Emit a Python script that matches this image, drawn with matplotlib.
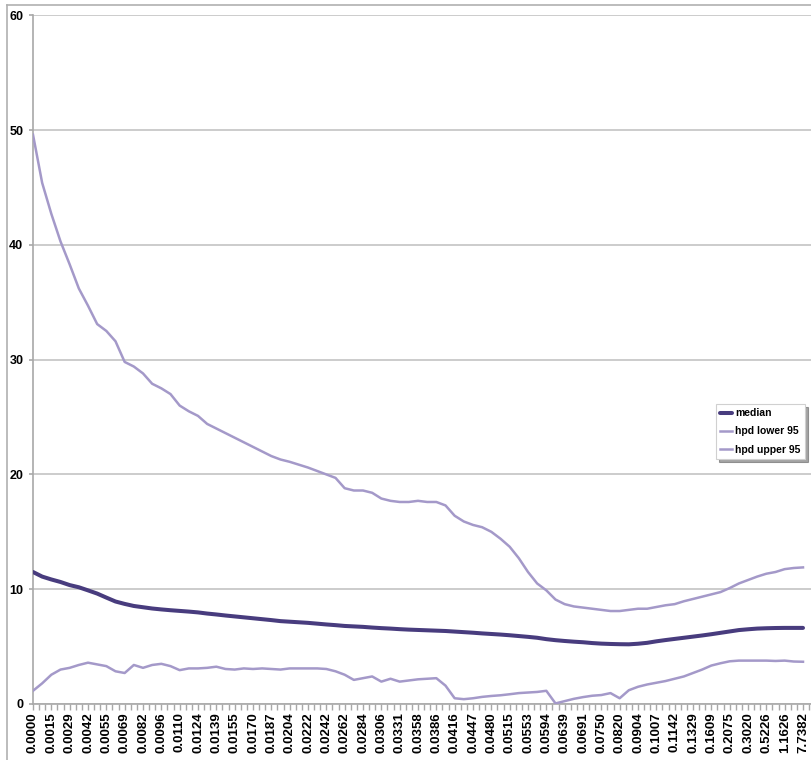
import numpy as np
import matplotlib
matplotlib.use("Agg")
import matplotlib.pyplot as plt
from matplotlib.ticker import MultipleLocator
from matplotlib.lines import Line2D

plt.rcParams['font.family'] = ['Liberation Sans', 'DejaVu Sans']

# category labels shown on the x axis (one every 2 points)
x_labels = ['0.0000', '0.0015', '0.0029', '0.0042', '0.0055', '0.0069', '0.0082', '0.0096',
            '0.0110', '0.0124', '0.0139', '0.0155', '0.0170', '0.0187', '0.0204', '0.0222',
            '0.0242', '0.0262', '0.0284', '0.0306', '0.0331', '0.0358', '0.0386', '0.0416',
            '0.0447', '0.0480', '0.0515', '0.0553', '0.0594', '0.0639', '0.0691', '0.0750',
            '0.0820', '0.0904', '0.1007', '0.1142', '0.1329', '0.1609', '0.2075', '0.3020',
            '0.5226', '1.1626', '7.7382']

median = [11.5, 11.1, 10.85, 10.63, 10.36, 10.17, 9.9, 9.62, 9.27, 8.93,
          8.72, 8.54, 8.43, 8.32, 8.24, 8.17, 8.11, 8.05, 7.98, 7.88,
          7.8, 7.71, 7.63, 7.55, 7.47, 7.39, 7.31, 7.22, 7.17, 7.12,
          7.07, 7.0, 6.93, 6.87, 6.8, 6.76, 6.72, 6.66, 6.61, 6.57,
          6.52, 6.48, 6.45, 6.42, 6.39, 6.36, 6.31, 6.26, 6.21, 6.15,
          6.1, 6.05, 5.99, 5.92, 5.85, 5.77, 5.65, 5.56, 5.49, 5.43,
          5.38, 5.31, 5.26, 5.23, 5.21, 5.2, 5.25, 5.33, 5.46, 5.57,
          5.67, 5.77, 5.87, 5.97, 6.08, 6.2, 6.32, 6.44, 6.51, 6.57,
          6.6, 6.62, 6.63, 6.63, 6.63]

hpd_lower = [1.15, 1.8, 2.55, 3.0, 3.15, 3.4, 3.6, 3.45, 3.3, 2.85,
             2.7, 3.4, 3.15, 3.4, 3.5, 3.3, 2.95, 3.1, 3.1, 3.15,
             3.25, 3.05, 3.0, 3.1, 3.05, 3.1, 3.05, 3.0, 3.1, 3.1,
             3.1, 3.1, 3.05, 2.85, 2.55, 2.1, 2.25, 2.4, 1.95, 2.2,
             1.95, 2.05, 2.15, 2.2, 2.25, 1.6, 0.5, 0.42, 0.5, 0.62,
             0.7, 0.76, 0.85, 0.95, 1.0, 1.05, 1.15, 0.05, 0.25, 0.45,
             0.6, 0.72, 0.78, 0.95, 0.5, 1.2, 1.5, 1.7, 1.85, 2.0,
             2.2, 2.4, 2.7, 3.0, 3.35, 3.55, 3.72, 3.78, 3.78, 3.78,
             3.78, 3.75, 3.78, 3.7, 3.68]

hpd_upper = [49.6, 45.4, 42.7, 40.3, 38.3, 36.2, 34.7, 33.1, 32.5, 31.6,
             29.8, 29.4, 28.8, 27.9, 27.5, 27.0, 26.0, 25.5, 25.1, 24.4,
             24.0, 23.6, 23.2, 22.8, 22.4, 22.0, 21.6, 21.3, 21.1, 20.85,
             20.6, 20.3, 20.0, 19.7, 18.8, 18.6, 18.6, 18.4, 17.9, 17.7,
             17.6, 17.6, 17.7, 17.6, 17.6, 17.3, 16.4, 15.9, 15.6, 15.4,
             15.0, 14.4, 13.7, 12.7, 11.5, 10.5, 9.9, 9.1, 8.7, 8.5,
             8.4, 8.3, 8.2, 8.1, 8.1, 8.2, 8.3, 8.3, 8.45, 8.6,
             8.7, 8.95, 9.15, 9.35, 9.55, 9.75, 10.1, 10.5, 10.8, 11.1,
             11.35, 11.5, 11.75, 11.85, 11.9]

W, H = 812, 760
fig = plt.figure(figsize=(W / 100, H / 100), dpi=100)
ax = fig.add_axes([33 / W, (H - 704) / H, (812 - 33) / W, (704 - 15.3) / H])

x = np.arange(len(median))
dark = '#483c7e'
light = '#a499c9'

ax.plot(x, median, color=dark, lw=2.9, label='median', solid_capstyle='round', zorder=4)
ax.plot(x, hpd_lower, color=light, lw=1.8, label='hpd lower 95', zorder=3)
ax.plot(x, hpd_upper, color=light, lw=1.8, label='hpd upper 95', zorder=3)

ax.set_xlim(0, 84 + 9 / 9.167)
ax.set_ylim(0, 60)

# axes look
for s in ['top', 'right']:
    ax.spines[s].set_visible(False)
for s in ['left', 'bottom']:
    ax.spines[s].set_color('#a8a8a8')
    ax.spines[s].set_linewidth(1.2)

ax.yaxis.grid(True, color='#c4c4c4', lw=1.2)
ax.set_axisbelow(True)
ax.set_yticks(range(0, 61, 10))
ax.tick_params(axis='y', length=3, color='#a8a8a8', width=1.2, pad=4, labelsize=9)
for t in ax.get_yticklabels():
    t.set_fontweight('bold')

ax.set_xticks(np.arange(0, len(median), 2))
ax.set_xticklabels(x_labels, rotation=90, fontsize=9.5, fontweight='bold')
ax.xaxis.set_minor_locator(MultipleLocator(2 / 3))
ax.tick_params(axis='x', which='both', length=4, color='#a8a8a8', width=1, pad=2)

leg = ax.legend(loc='upper left', bbox_to_anchor=((716 - 33) / (812 - 33), (704 - 404) / (704 - 15.3)),
                frameon=True, fancybox=False, shadow=True, handlelength=1.1,
                handletextpad=0.35, labelspacing=0.8, borderpad=0.4, borderaxespad=0,
                prop={'weight': 'bold', 'size': 7.5})
leg.get_frame().set_edgecolor('#d0d0d0')
leg.get_frame().set_linewidth(0.8)

# outer chart border (left and top edges visible)
fig.add_artist(Line2D([7 / W, 7 / W], [0, (H - 5) / H], color='#b0b0b0', lw=1.2))
fig.add_artist(Line2D([7 / W, 1], [(H - 5) / H, (H - 5) / H], color='#b0b0b0', lw=1.2))

fig.savefig('out.png', dpi=100)
